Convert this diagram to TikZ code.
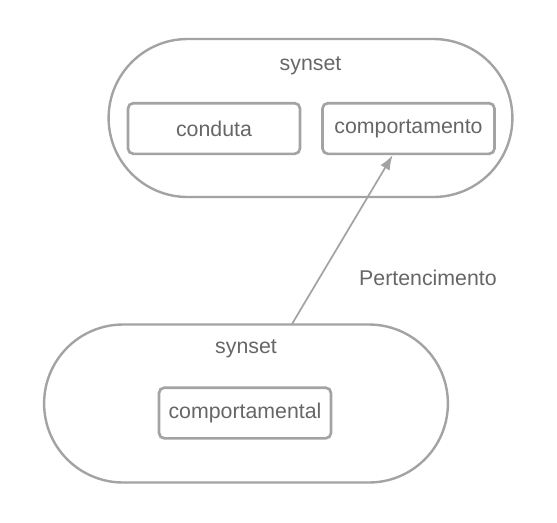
\documentclass[tikz,border=0pt]{standalone}
\usepackage{fontspec}
\setmainfont{Liberation Sans}
\usepackage{xcolor}
\usetikzlibrary{shapes.misc,positioning,arrows.meta}
\definecolor{linegray}{HTML}{A3A3A3}
\definecolor{textgray}{HTML}{666666}

\begin{document}
\begin{tikzpicture}[x=0.75pt, y=-0.75pt,
        synset group/.style={rounded rectangle, draw=linegray, line width=1.8pt, minimum width=309.5pt, minimum height=118.5pt},
        word box/.style={rectangle, rounded corners=4pt, draw=linegray, line width=2pt, minimum width=129pt, minimum height=38pt, text=textgray, font=\fontsize{16}{19}\selectfont},
        tag/.style={text=textgray, font=\fontsize{16}{19}\selectfont},
        line/.style={draw=linegray, line width=1.3pt, -{Latex[length=11pt,width=8pt]}}]

        \useasboundingbox (0,0) rectangle (557,522);

        \node [synset group] (top) at (310.5,118) {};
        \node [synset group] (bot) at (246,403.5) {};
        \node [tag] at (310.5,66) {synset};
        \node [tag] at (246,349) {synset};

        \node [word box] (cond) at (214,128.5) {conduta};
        \node [word box] (comp) at (408.5,128.5) {comportamento};
        \node [word box] (compl) at (245,413) {comportamental};

        \coordinate (tail) at (292,324);
        \path [line] (tail) -- (comp);
        \node [tag] (rel) at (428,278) {Pertencimento};
    \end{tikzpicture}
\end{document}
